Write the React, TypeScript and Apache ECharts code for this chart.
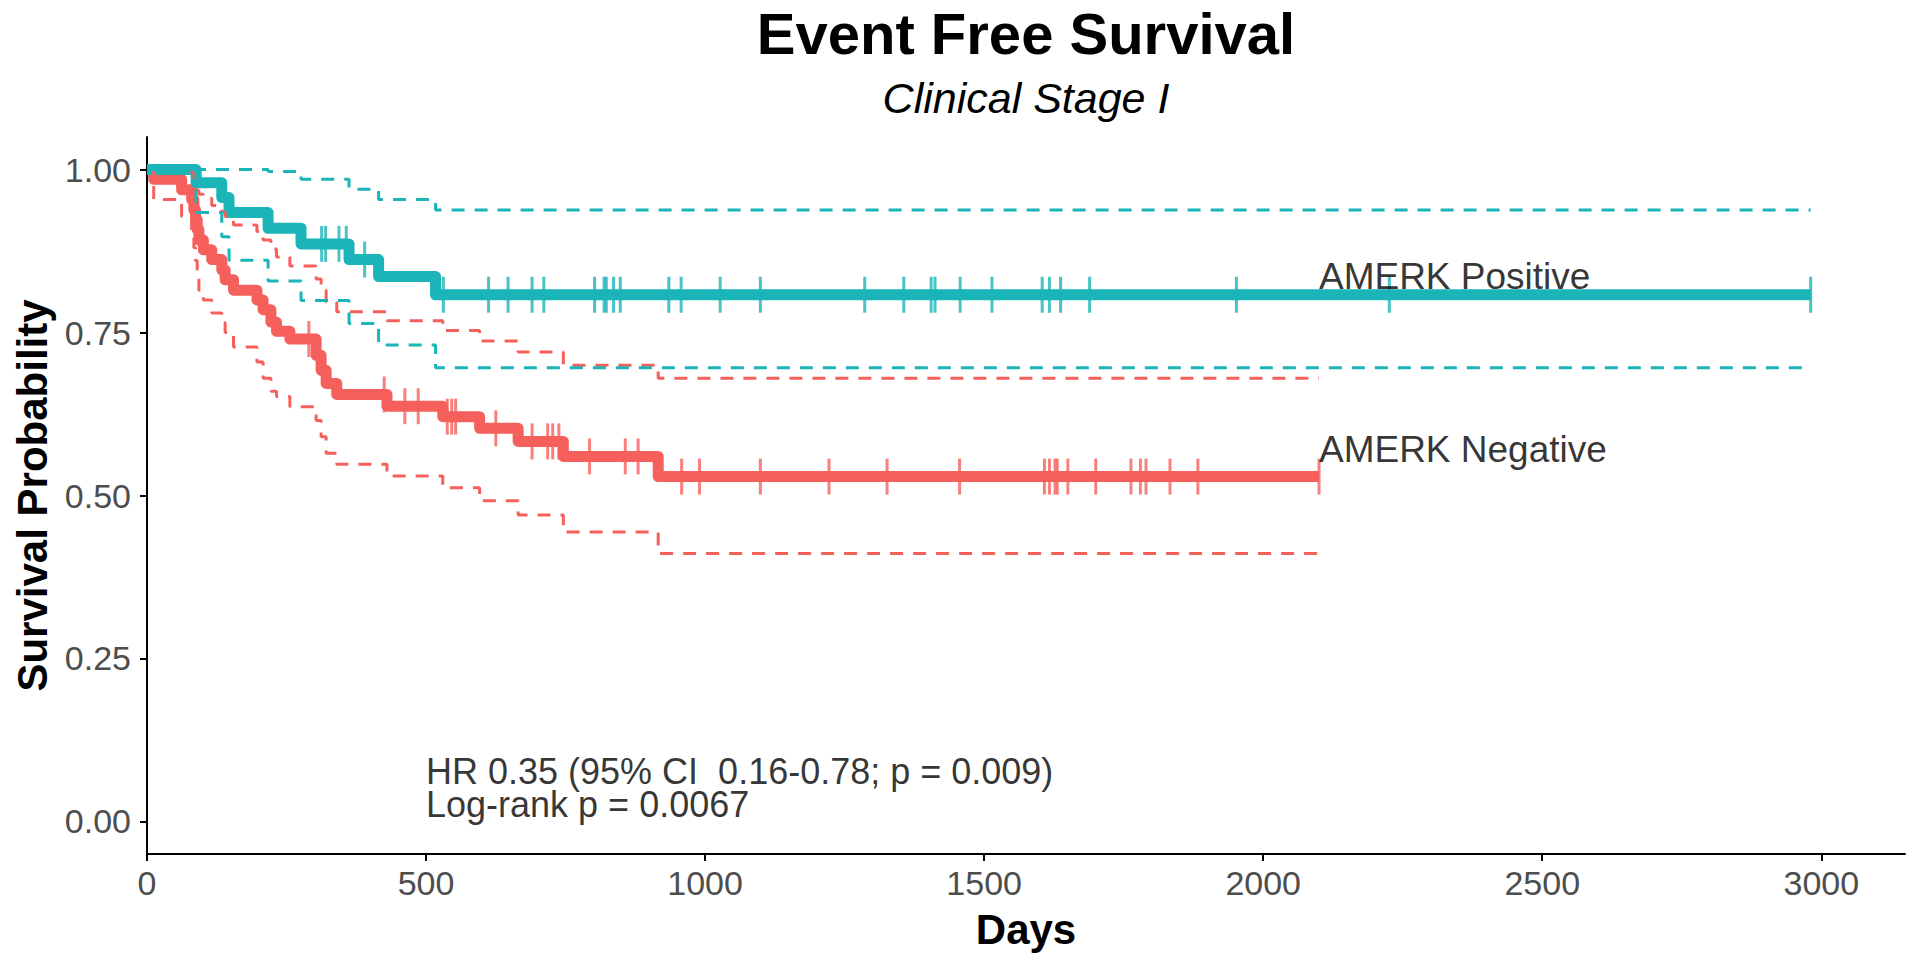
import { useEffect, useRef } from 'react';
import * as echarts from 'echarts';

const FONT = '"Liberation Sans", Arial, Helvetica, sans-serif';
const RED = '#F5605C';
const TEAL = '#1BB4B8';

const xTicks = [0, 500, 1000, 1500, 2000, 2500, 3000];
const yTicks = [0, 0.25, 0.5, 0.75, 1];

// AMERK Negative: Kaplan-Meier steps (day, survival) with confidence bounds
const negDays = [0, 12, 62, 80, 84, 87, 90, 93, 101, 116, 134, 140, 155, 197, 208, 222, 232, 256, 303, 312, 321, 340, 430, 530, 596, 665, 746, 916];
const negSurv = [1, 0.985, 0.969, 0.954, 0.938, 0.923, 0.908, 0.892, 0.877, 0.862, 0.846, 0.831, 0.815, 0.8, 0.785, 0.766, 0.752, 0.74, 0.715, 0.692, 0.672, 0.655, 0.637, 0.621, 0.603, 0.583, 0.56, 0.529];
const negUpper = [1, 1, 1, 0.995, 0.988, 0.978, 0.968, 0.962, 0.956, 0.945, 0.935, 0.928, 0.915, 0.905, 0.892, 0.878, 0.866, 0.852, 0.832, 0.815, 0.797, 0.782, 0.768, 0.753, 0.737, 0.72, 0.7, 0.68];
const negLower = [1, 0.954, 0.928, 0.905, 0.88, 0.86, 0.84, 0.815, 0.8, 0.78, 0.765, 0.75, 0.728, 0.705, 0.68, 0.66, 0.652, 0.636, 0.615, 0.59, 0.565, 0.548, 0.53, 0.512, 0.492, 0.47, 0.444, 0.411];
const negCensored = [290, 425, 462, 486, 538, 546, 553, 625, 690, 718, 727, 738, 793, 857, 880, 958, 990, 1099, 1222, 1326, 1456, 1608, 1617, 1627, 1631, 1650, 1700, 1763, 1780, 1790, 1833, 1883, 2100];
const negLastDay = 2100;

// AMERK Positive
const posDays = [0, 88, 134, 147, 217, 276, 362, 415, 517];
const posSurv = [1, 0.98, 0.957, 0.934, 0.91, 0.886, 0.862, 0.836, 0.808];
const posUpper = [1, 1, 1, 1, 0.997, 0.985, 0.97, 0.954, 0.938];
const posLower = [1, 0.934, 0.897, 0.861, 0.829, 0.799, 0.764, 0.731, 0.696];
const posCensored = [313, 320, 344, 357, 390, 531, 612, 647, 690, 711, 802, 819, 823, 836, 848, 935, 957, 1027, 1099, 1286, 1356, 1405, 1412, 1457, 1514, 1604, 1617, 1637, 1689, 1952, 2226, 2981];
const posLastDay = 2981;

const groupNames = ['AMERK Negative', 'AMERK Positive'];
const statsText = ['HR 0.35 (95% CI  0.16-0.78; p = 0.009)', 'Log-rank p = 0.0067'];
const statsAt = [500, 0];

function stepData(days: number[], values: number[], lastDay: number) {
  const pts = days.map((d, i) => [d, values[i]]);
  pts.push([lastDay, values[values.length - 1]]);
  return pts;
}

function valueAt(days: number[], values: number[], t: number) {
  let v = values[0];
  for (let i = 0; i < days.length; i++) if (days[i] <= t) v = values[i];
  return v;
}

const ciLine = (data: number[][], color: string) => ({
  type: 'line',
  data,
  step: 'end',
  symbol: 'none',
  silent: true,
  lineStyle: { color, width: 3, type: [13, 10] },
  z: 3,
});

const kmLine = (data: number[][], color: string) => ({
  type: 'line',
  data,
  step: 'end',
  symbol: 'none',
  silent: true,
  lineStyle: { color, width: 11, cap: 'butt', join: 'round' },
  z: 2,
});

const censorMarks = (days: number[], values: number[], censored: number[], color: string) => ({
  type: 'scatter',
  symbol: 'rect',
  symbolSize: [3, 36],
  silent: true,
  itemStyle: { color },
  data: censored.map((t) => [t, valueAt(days, values, t)]),
  z: 4,
});

const textMark = (point: number[], text: string, fontSize: number, lineHeight: number, dy = 0) => ({
  type: 'scatter',
  symbolSize: 0.1,
  silent: true,
  itemStyle: { color: 'transparent' },
  data: [point],
  label: {
    show: true,
    formatter: text,
    position: [0, 0],
    offset: [0, dy],
    align: 'left',
    verticalAlign: 'bottom',
    fontSize,
    lineHeight,
    color: '#000',
    fontFamily: FONT,
  },
  z: 5,
});

export default function App() {
  const chartRef = useRef<HTMLDivElement>(null);

  useEffect(() => {
    if (!chartRef.current) return;
    const chart = echarts.init(chartRef.current, null, { renderer: 'svg' });

    chart.setOption({
      animation: false,
      backgroundColor: '#fff',
      grid: { left: 147, right: 15, top: 137, bottom: 106 },
      graphic: [
        {
          type: 'text',
          x: 1026,
          y: 33,
          style: {
            text: 'Event Free Survival',
            align: 'center',
            verticalAlign: 'middle',
            fontSize: 58,
            fontWeight: 'bold',
            fontFamily: FONT,
            fill: '#000',
          },
        },
        {
          type: 'text',
          x: 1026,
          y: 98,
          style: {
            text: 'Clinical Stage I',
            align: 'center',
            verticalAlign: 'middle',
            fontSize: 43,
            fontStyle: 'italic',
            fontFamily: FONT,
            fill: '#000',
          },
        },
      ],
      xAxis: {
        type: 'value',
        min: 0,
        max: 3150,
        axisLine: { show: true, onZero: false, lineStyle: { color: '#000', width: 2 } },
        axisTick: { show: true, customValues: xTicks, length: 7, lineStyle: { color: '#000', width: 2 } },
        axisLabel: {
          customValues: xTicks,
          formatter: (v: number) => String(v),
          color: '#4D4D4D',
          fontSize: 34,
          fontFamily: FONT,
          margin: 12,
        },
        splitLine: { show: false },
        name: 'Days',
        nameLocation: 'middle',
        nameGap: 54,
        nameTextStyle: { fontSize: 42, fontWeight: 'bold', color: '#000', fontFamily: FONT },
      },
      yAxis: {
        type: 'value',
        min: -0.05,
        max: 1.05,
        axisLine: { show: true, onZero: false, lineStyle: { color: '#000', width: 2 } },
        axisTick: { show: true, customValues: yTicks, length: 7, lineStyle: { color: '#000', width: 2 } },
        axisLabel: {
          customValues: yTicks,
          formatter: (v: number) => v.toFixed(2),
          color: '#4D4D4D',
          fontSize: 34,
          fontFamily: FONT,
          margin: 16,
        },
        splitLine: { show: false },
        name: 'Survival Probability',
        nameLocation: 'middle',
        nameGap: 92,
        nameRotate: 90,
        nameTextStyle: { fontSize: 42, fontWeight: 'bold', color: '#000', fontFamily: FONT },
      },
      series: [
        kmLine(stepData(negDays, negSurv, negLastDay), RED),
        kmLine(stepData(posDays, posSurv, posLastDay), TEAL),
        ciLine(stepData(negDays, negUpper, negLastDay), RED),
        ciLine(stepData(negDays, negLower, negLastDay), RED),
        ciLine(stepData(posDays, posUpper, posLastDay), TEAL),
        ciLine(stepData(posDays, posLower, posLastDay), TEAL),
        censorMarks(negDays, negSurv, negCensored, RED),
        censorMarks(posDays, posSurv, posCensored, TEAL),
        textMark([negLastDay, negSurv[negSurv.length - 1]], groupNames[0], 37, 37, -9),
        textMark([negLastDay, posSurv[posSurv.length - 1]], groupNames[1], 37, 37),
        textMark(statsAt, statsText.join('\n'), 36, 33),
      ],
    });

    return () => {
      chart.dispose();
    };
  }, []);

  return (
    <div
      ref={chartRef}
      style={{ position: 'fixed', left: 0, top: 0, width: '1920px', height: '960px' }}
    />
  );
}
